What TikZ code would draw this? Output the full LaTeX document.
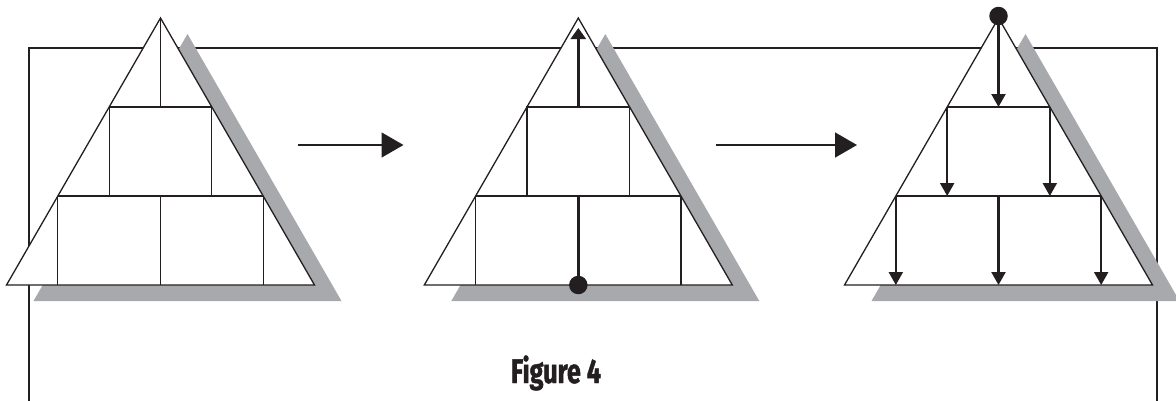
\documentclass[tikz,border=0pt]{standalone}
\usepackage{fontspec}
\newfontfamily\capfont[FakeStretch=0.74,BoldFeatures={FakeBold=1.3}]{Fira Sans}
\usetikzlibrary{arrows.meta,calc}
\definecolor{ink}{HTML}{231F20}
\definecolor{shade}{HTML}{A7A9AC}
\tikzset{
  thinline/.style={draw=ink,line width=1.2pt},
  outline/.style={draw=ink,line width=1.3pt,fill=white,line join=miter},
  thickline/.style={draw=ink,line width=2.8pt},
  medline/.style={draw=ink,line width=1.8pt},
  shadowfill/.style={fill=shade},
  frameline/.style={draw=ink,line width=2.6pt},
  bigarrow/.style={draw=ink,line width=1.5pt,-{Triangle[length=22pt,width=25pt]}},
  downarrow/.style={draw=ink,line width=2.2pt,-{Triangle[length=13pt,width=14pt]}},
  uparrow/.style={draw=ink,line width=2.8pt,-{Triangle[length=11pt,width=15pt]}},
  dot/.style={circle,fill=ink,inner sep=0pt,minimum size=18.5pt},
  caption/.style={font=\capfont\bfseries\fontsize{34}{38}\selectfont,text=ink,inner sep=0pt}
}
\newcommand{\drawpyr}[2]{%
  \coordinate (#2apex) at (#1,18);
  \coordinate (#2bl) at (#1-154,285);
  \coordinate (#2br) at (#1+154,285);
  \coordinate (#2a1) at (#1-51.33,107);
  \coordinate (#2m1) at (#1,107);
  \coordinate (#2b1) at (#1+51.33,107);
  \coordinate (#2a2) at (#1-102.67,196);
  \coordinate (#2c2) at (#1-51.33,196);
  \coordinate (#2m2) at (#1,196);
  \coordinate (#2d2) at (#1+51.33,196);
  \coordinate (#2b2) at (#1+102.67,196);
  \coordinate (#2a3) at (#1-102.67,285);
  \coordinate (#2m3) at (#1,285);
  \coordinate (#2b3) at (#1+102.67,285);
  \fill[shadowfill] ($(#2apex)+(27,16)$) -- ($(#2bl)+(27,16)$) -- ($(#2br)+(27,16)$) -- cycle;
  \path[outline] (#2apex) -- (#2bl) -- (#2br) -- cycle;
}
\begin{document}
\begin{tikzpicture}[x=1pt,y=-1pt]
\useasboundingbox (0,0) rectangle (1176,400);
% frame
\draw[frameline] (29,403) -- (29,47.8) -- (1157,47.8) -- (1157,403);
% pyramid 1
\drawpyr{160.5}{p}
\draw[thinline] (papex) -- (pm1);
\draw[thinline] (pa1) -- (pb1);
\draw[thinline] (pa1) -- (pc2);
\draw[thinline] (pb1) -- (pd2);
\draw[thinline] (pa2) -- (pb2);
\draw[thinline] (pa2) -- (pa3);
\draw[thinline] (pm2) -- (pm3);
\draw[thinline] (pb2) -- (pb3);
% pyramid 2
\drawpyr{578.3}{q}
\draw[thinline] (qm1) -- (qb1) -- (qd2);
\draw[thinline] (qa2) -- (qb2);
\draw[thinline] (qa2) -- (qa3);
\draw[thinline] (qb2) -- (qb3);
\node[dot] (qdot) at (qm3) {};
\coordinate (qtip) at (578.3,28);
\draw[thickline,line join=miter] (qdot.center) -- (qm2) -- (qc2) -- (qa1) -- (qm1);
\draw[uparrow] (qm1) -- (qtip);
% pyramid 3
\drawpyr{998.5}{r}
\draw[medline] (ra1) -- (rb1);
\draw[medline] (ra2) -- (rb2);
\node[dot] (rdot) at (998.5,16) {};
\draw[downarrow] (rdot.center) -- (rm1);
\draw[downarrow] (ra1) -- (rc2);
\draw[downarrow] (rb1) -- (rd2);
\draw[downarrow] (ra2) -- (ra3);
\draw[downarrow] (rm2) -- (rm3);
\draw[downarrow] (rb2) -- (rb3);
% transition arrows
\coordinate (s1) at (298,145);
\coordinate (e1) at (403.5,145);
\coordinate (s2) at (716,145);
\coordinate (e2) at (857,145);
\draw[bigarrow] (s1) -- (e1);
\draw[bigarrow] (s2) -- (e2);
% caption
\node[caption,anchor=base] (cap) at (556,383) {Figure 4};
\end{tikzpicture}
\end{document}
